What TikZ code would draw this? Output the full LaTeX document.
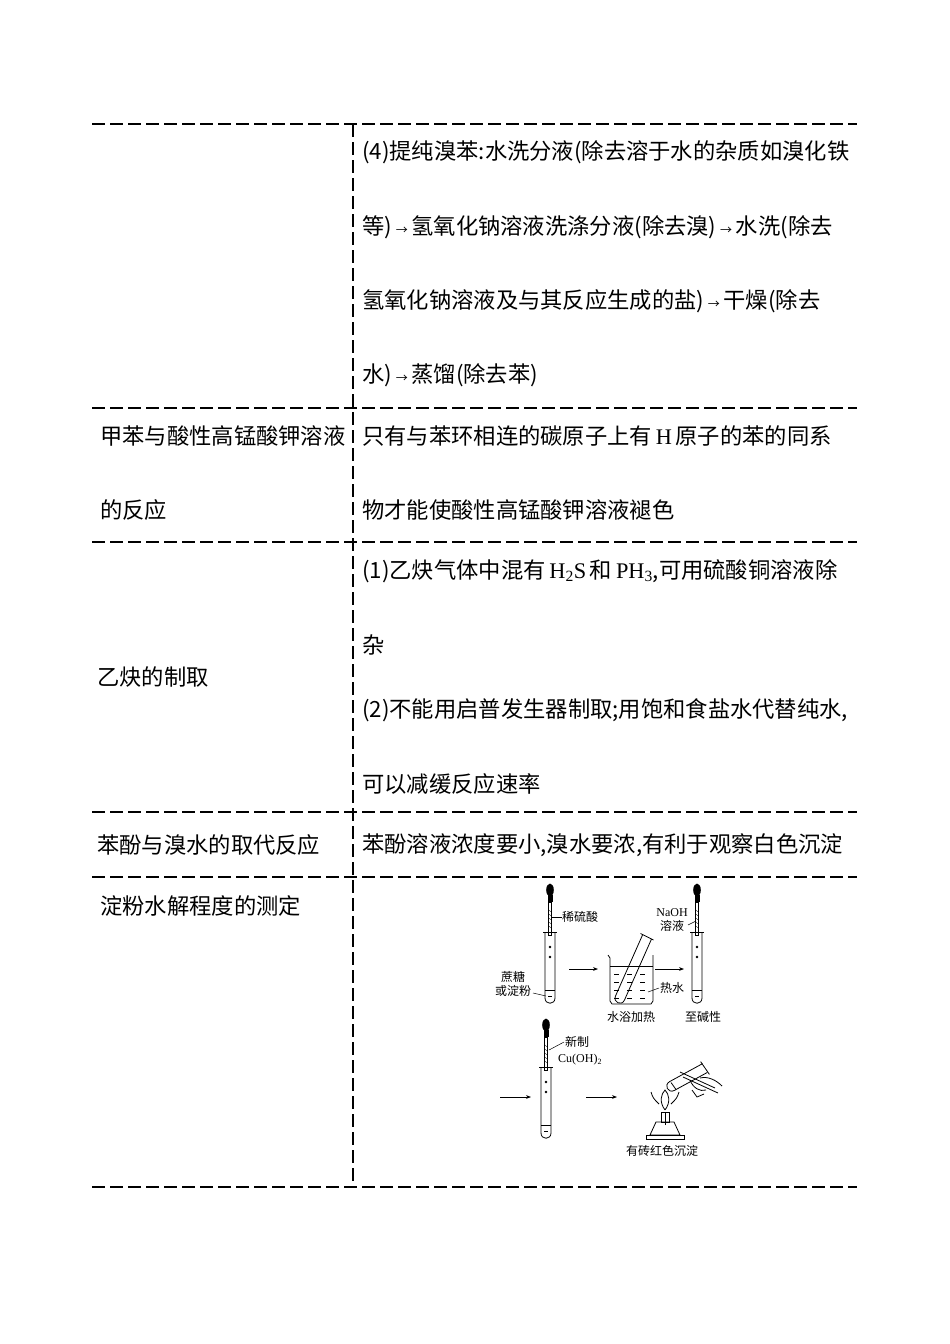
\documentclass[tikz,border=0pt]{standalone}
\usepackage{fontspec}
\setmainfont{Liberation Serif}
\newfontfamily\cjk{Noto Sans CJK SC}
\newfontfamily\lab{Liberation Serif}
\usetikzlibrary{arrows.meta}
\begin{document}
\begin{tikzpicture}[x=1pt,y=-1pt,
  rule/.style={line width=1.1pt,dash pattern=on 13pt off 5pt},
  txt/.style={anchor=west,inner sep=0,font=\cjk\fontsize{22.3}{26}\selectfont},
  sm/.style={inner sep=0,font=\cjk\fontsize{12}{14}\selectfont},
  app/.style={line width=0.8pt},
  arr/.style={line width=0.7pt,-{Stealth[length=5pt]}}]
\useasboundingbox (0,0) rectangle (950,1344);
% table lines
\foreach \y in {124,408,542,812,877,1187} \draw[rule] (92,\y) -- (857,\y);
\draw[rule] (353,124) -- (353,1187);
\newcommand\ra{\,{\fontsize{12}{12}\selectfont→}\,}
% right column
\node[txt] (r1a) at (362,152) {(4)提纯溴苯:水洗分液(除去溶于水的杂质如溴化铁};
\node[txt] (r1b) at (362,227) {等)\ra 氢氧化钠溶液洗涤分液(除去溴)\ra 水洗(除去};
\node[txt] (r1c) at (362,301) {氢氧化钠溶液及与其反应生成的盐)\ra 干燥(除去};
\node[txt] (r1d) at (362,375) {水)\ra 蒸馏(除去苯)};
\node[txt] (l2a) at (100,436) {甲苯与酸性高锰酸钾溶液};
\node[txt] (l2b) at (100,510) {的反应};
\node[txt] (r2a) at (362,436) {只有与苯环相连的碳原子上有{\lab\,H\,}原子的苯的同系};
\node[txt] (r2b) at (362,510) {物才能使酸性高锰酸钾溶液褪色};
\node[txt] (l3) at (97,677) {乙炔的制取};
\node[txt] (r3a) at (362,571) {(1)乙炔气体中混有{\lab\,H\textsubscript{2}S\,}和{\lab\,PH\textsubscript{3}},可用硫酸铜溶液除};
\node[txt] (r3b) at (362,645) {杂};
\node[txt] (r3c) at (362,710) {(2)不能用启普发生器制取;用饱和食盐水代替纯水,};
\node[txt] (r3d) at (362,784) {可以减缓反应速率};
\node[txt] (l4) at (97,845) {苯酚与溴水的取代反应};
\node[txt] (r4) at (362,845) {苯酚溶液浓度要小,溴水要浓,有利于观察白色沉淀};
\node[txt] (l5) at (100,906) {淀粉水解程度的测定};
% apparatus: test tubes with droppers
\foreach \x/\t in {550/932,697/932,546/1067}{
  \draw[app] (\x-5,\t) -- (\x-5,\t+66) .. controls (\x-5,\t+73) and (\x+5,\t+73) .. (\x+5,\t+66) -- (\x+5,\t);
  \draw[app] (\x-7,\t) -- (\x+7,\t);
  \draw[app] (\x-5,\t+58) -- (\x+5,\t+58);
  \draw[line width=0.6pt] (\x-2,\t+64) -- (\x+2,\t+64);
  \fill (\x,\t+15) circle (1.3) (\x,\t+25) circle (1.3);
  \fill (\x,\t-42) ellipse (3.8 and 6.5);
  \fill (\x-2.5,\t-37) rectangle (\x+2.5,\t-30);
  \draw[app] (\x-1.5,\t-30) rectangle (\x+1.5,\t+3);
  \foreach \k in {0,4,8,12,16} \draw[line width=0.4pt] (\x-1.5,\t-22+\k) -- (\x+1.5,\t-20+\k);
}
\node[sm,anchor=west] (a1) at (562,917) {稀硫酸};
\draw[line width=0.5pt] (a1.west) -- (552,917);
\node[sm,align=center] (a2) at (513,984) {蔗糖\\或淀粉};
\draw[line width=0.5pt] (533,993) -- (546,996);
\node[sm,align=center] (a3) at (672,920) {{\lab NaOH}\\溶液};
\draw[line width=0.5pt] (688,925) -- (696,921);
\node[sm] (a4) at (703,1017) {至碱性};
% arrows
\coordinate (p1) at (569,969); \coordinate (p2) at (598,969);
\draw[arr] (p1) -- (p2);
\coordinate (p3) at (655,969); \coordinate (p4) at (684,969);
\draw[arr] (p3) -- (p4);
\coordinate (p5) at (500,1097); \coordinate (p6) at (531,1097);
\draw[arr] (p5) -- (p6);
\coordinate (p7) at (586,1097); \coordinate (p8) at (617,1097);
\draw[arr] (p7) -- (p8);
% beaker
\draw[app] (608,955) -- (610,958) -- (610,1001) -- (612,1004) -- (651,1004) -- (653,1001) -- (653,955);
\draw[app] (610,966) -- (653,966);
\foreach \yy in {974,982,990,998} \foreach \xx in {614,627,640} \draw[line width=0.5pt] (\xx,\yy) -- +(5,0);
\draw[app,fill=white,fill opacity=0] (642.5,935) -- (615.5,996) .. controls (612.7,1002.4) and (621.7,1006.4) .. (624.5,1000) -- (651.5,939);
\draw[app] (640.5,933.5) -- (653.5,940);
\node[sm,anchor=west] (a5) at (660,988) {热水};
\draw[line width=0.5pt] (659,988) -- (648,992);
\node[sm] (a6) at (631,1017) {水浴加热};
\node[sm,anchor=west] (a7) at (565,1042) {新制};
\node[sm,anchor=west] (a8) at (558,1060) {{\lab Cu(OH)\textsubscript{2}}};
\draw[line width=0.5pt] (564,1042) -- (549,1050);
% alcohol lamp
\draw[app] (650,1135) -- (656,1122) -- (674,1122) -- (680,1135) -- cycle;
\draw[app] (646,1135) -- (684,1135) -- (684,1139) -- (646,1139) -- cycle;
\draw[app] (661,1122) rectangle (669,1112);
\draw[app] (665,1125) -- (665,1112);
\draw[app] (665,1110) .. controls (659,1102) and (661,1094) .. (665,1090) .. controls (669,1094) and (671,1102) .. (665,1110);
\draw[app] (659,1104) .. controls (653,1098) .. (651,1092);
\draw[app] (671,1104) .. controls (677,1098) .. (679,1092);
% heated tube with holder and hand
\draw[app] (702.6,1063.6) -- (669.6,1081.6) .. controls (663.4,1085) and (668.2,1093.8) .. (674.4,1090.4) -- (707.4,1072.4);
\draw[app] (700.6,1061.6) -- (709.4,1074.4);
\draw[app] (671,1082.5) -- (676,1089.5);
\draw[app] (680,1072) -- (715,1088);
\draw[app] (683,1077) -- (718,1093);
\draw[app] (690,1080) .. controls (693,1088) and (700,1092) .. (706,1090);
\draw[app] (700,1078) .. controls (708,1076) and (716,1080) .. (722,1086);
\draw[app] (692,1090) -- (697,1097) -- (704,1094);
\node[sm] (a9) at (662,1151) {有砖红色沉淀};
\end{tikzpicture}
\end{document}
